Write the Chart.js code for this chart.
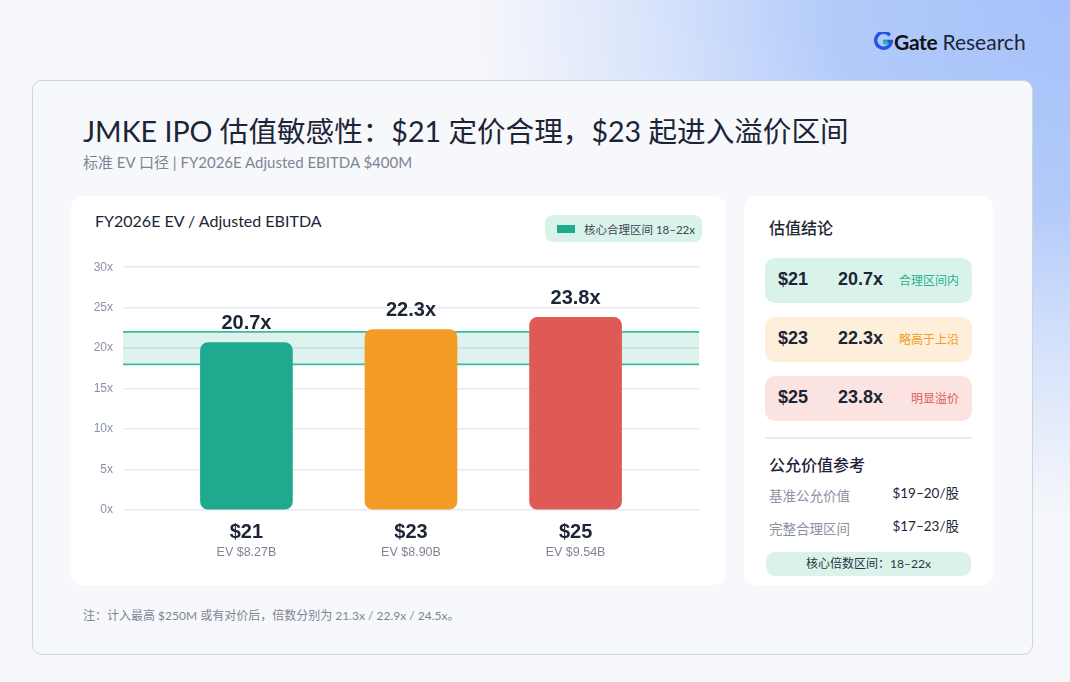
<!DOCTYPE html>
<html>
<head>
<meta charset="utf-8">
<script src="https://cdn.jsdelivr.net/npm/chart.js@4.4.1/dist/chart.umd.min.js"></script>
<style>
  html, body { margin: 0; padding: 0; }
  body {
    width: 1070px; height: 682px; position: relative; overflow: hidden;
    font-family: "Lato", "Noto Sans CJK SC", sans-serif;
    background: radial-gradient(ellipse 600px 520px at 1070px 0px, #a6c1fa 0%, #b3cbfa 40%, #d9e4fb 70%, #f6f7fa 100%), #f6f7fa;
    color: #1c2536;
  }
  .logo { position: absolute; left: 874px; top: 29px; font-size: 21px; display: flex; align-items: center; }
  .logo b { font-weight: 700; color: #111; letter-spacing: -0.3px; }
  .logo span { color: #1c2536; margin-left: 5px; font-weight: 400; }
  .card {
    position: absolute; left: 32px; top: 80px; width: 999px; height: 573px;
    background: #f7f8fb; border: 1px solid #cfd3da; border-radius: 10px;
  }
  .title { position: absolute; left: 83px; top: 109px; font-size: 28.6px; color: #1c2536; white-space: nowrap; }
  .sub { position: absolute; left: 83px; top: 151px; font-size: 15px; color: #7d8594; }
  .panel { position: absolute; background: #fff; border-radius: 12px; }
  .ptitle { position: absolute; font-size: 16px; color: #1c2536; }
  .legend {
    position: absolute; left: 545px; top: 215px; width: 157px; height: 27px; border-radius: 8px;
    background: #daf3ea; font-size: 11.5px; color: #3b4556; display: flex; align-items: center;
  }
  .legend i { display: inline-block; width: 18px; height: 8px; background: #1fa98f; margin: 0 9px 0 12px; }
  .row {
    position: absolute; left: 765px; width: 207px; height: 45px; border-radius: 10px;
    font-family: "Liberation Sans", "Noto Sans CJK SC", sans-serif;
  }
  .row .p { position: absolute; left: 13px; top: 11px; font-size: 18px; font-weight: 700; color: #1c2536; }
  .row .m { position: absolute; left: 73px; top: 11px; font-size: 18px; font-weight: 700; color: #1c2536; }
  .row .s { position: absolute; right: 13px; top: 13px; font-size: 12px; font-family: "Noto Sans CJK SC", sans-serif; }
  .divider { position: absolute; left: 765px; top: 437px; width: 207px; height: 2px; background: #e8ecf1; }
  .kv { position: absolute; font-size: 13.5px; }
  .pill {
    position: absolute; left: 766px; top: 552px; width: 205px; height: 24px; border-radius: 9px;
    background: #daf3ea; font-size: 12px; color: #2a3444; text-align: center; line-height: 24px;
  }
  .note { position: absolute; left: 83px; top: 606px; font-size: 12px; color: #7d8594; }
  #wrap { position: absolute; left: 71px; top: 250px; width: 655px; height: 320px; }
</style>
</head>
<body>
<div class="logo">
  <svg width="19" height="19" viewBox="0 0 18 18" style="margin-right:1px">
    <path d="M15 3.2 A7.5 7.5 0 1 0 16.5 9 H9" fill="none" stroke="#2354e6" stroke-width="3.2"/>
    <rect x="9" y="8" width="4" height="4" fill="#17c3a0"/>
  </svg>
  <b>Gate</b><span>Research</span>
</div>
<div class="card"></div>
<div class="title">JMKE IPO 估值敏感性：$21 定价合理，$23 起进入溢价区间</div>
<div class="sub">标准 EV 口径 | FY2026E Adjusted EBITDA $400M</div>

<div class="panel" style="left:71px;top:196px;width:655px;height:389px;"></div>
<div class="ptitle" style="left:95px;top:211px;">FY2026E EV / Adjusted EBITDA</div>
<div class="legend"><i></i>核心合理区间 18–22x</div>
<div id="wrap"><canvas id="chart"></canvas></div>

<div class="panel" style="left:744px;top:196px;width:249px;height:389px;"></div>
<div class="ptitle" style="left:769px;top:215px;font-weight:500;">估值结论</div>
<div id="rows"></div>
<div class="divider"></div>
<div class="ptitle" style="left:769px;top:452px;font-weight:500;">公允价值参考</div>
<div id="refs"></div>
<div class="pill">核心倍数区间：18–22x</div>
<div class="note">注：计入最高 $250M 或有对价后，倍数分别为 21.3x / 22.9x / 24.5x。</div>

<script>
// data
const prices = ['$21', '$23', '$25'];
const multiples = [20.7, 22.3, 23.8];
const evLabels = ['EV $8.27B', 'EV $8.90B', 'EV $9.54B'];
const statuses = ['合理区间内', '略高于上沿', '明显溢价'];
const coreBand = [18, 22];
const yMax = 30;
const yStep = 5;
const refLabels = ['基准公允价值', '完整合理区间'];
const refValues = ['$19–20/股', '$17–23/股'];

const barColors = ['#1fa98f', '#f29b25', '#e05a55'];
const rowBg = ['#daf3ea', '#fdefd9', '#fbe3e1'];
const statusColors = ['#2bb08f', '#f29b25', '#e05a55'];

// right panel rows
const rowsEl = document.getElementById('rows');
prices.forEach((p, i) => {
  const row = document.createElement('div');
  row.className = 'row';
  row.style.top = (258 + i * 59) + 'px';
  row.style.background = rowBg[i];
  row.innerHTML = `
    <div class="p">${p}</div>
    <div class="m">${multiples[i].toFixed(1)}x</div>
    <div class="s" style="color:${statusColors[i]}">${statuses[i]}</div>
  `;
  rowsEl.appendChild(row);
});
const refsEl = document.getElementById('refs');
refLabels.forEach((l, i) => {
  const a = document.createElement('div');
  a.className = 'kv';
  a.style.cssText = `left:769px;top:${485 + i * 33}px;color:#8a93a3;`;
  a.textContent = l;
  const b = document.createElement('div');
  b.className = 'kv';
  b.style.cssText = `right:${1070 - 959}px;top:${482 + i * 33}px;color:#1c2536;`;
  b.textContent = refValues[i];
  refsEl.appendChild(a);
  refsEl.appendChild(b);
});

// core band behind bars
const bandPlugin = {
  id: 'band',
  beforeDatasetsDraw(chart) {
    const { ctx, chartArea, scales } = chart;
    const yTop = scales.y.getPixelForValue(coreBand[1]);
    const yBot = scales.y.getPixelForValue(coreBand[0]);
    ctx.save();
    ctx.fillStyle = 'rgba(31,169,143,0.15)';
    ctx.fillRect(chartArea.left, yTop, chartArea.right - chartArea.left, yBot - yTop);
    ctx.strokeStyle = '#3dbb9c';
    ctx.lineWidth = 1.8;
    [yTop, yBot].forEach(y => {
      ctx.beginPath();
      ctx.moveTo(chartArea.left, y);
      ctx.lineTo(chartArea.right, y);
      ctx.stroke();
    });
    ctx.restore();
  }
};

// value labels above bars + category labels below
const labelPlugin = {
  id: 'labels',
  afterDatasetsDraw(chart) {
    const { ctx, scales } = chart;
    const meta = chart.getDatasetMeta(0);
    ctx.save();
    ctx.textAlign = 'center';
    ctx.textBaseline = 'middle';
    meta.data.forEach((bar, i) => {
      ctx.fillStyle = '#1c2536';
      ctx.font = 'bold 20px "Liberation Sans", Arial, sans-serif';
      ctx.fillText(multiples[i].toFixed(1) + 'x', bar.x, bar.y - 19);
      const base = scales.y.getPixelForValue(0);
      ctx.fillText(prices[i], bar.x, base + 22);
      ctx.fillStyle = '#7d8594';
      ctx.font = '12.5px "Liberation Sans", Arial, sans-serif';
      ctx.fillText(evLabels[i], bar.x, base + 43);
    });
    ctx.restore();
  }
};

const chart = new Chart(document.getElementById('chart'), {
  type: 'bar',
  data: {
    datasets: [{
      data: multiples.map((v, i) => ({ x: i, y: v })),
      backgroundColor: barColors,
      borderRadius: 8,
      borderSkipped: false,
      barThickness: 92
    }]
  },
  options: {
    responsive: true,
    maintainAspectRatio: false,
    animation: false,
    layout: { padding: { top: 17, right: 27, bottom: 60, left: 0 } },
    plugins: { legend: { display: false }, tooltip: { enabled: false } },
    scales: {
      x: { type: 'linear', min: -0.75, max: 2.75, offset: false, display: false },
      y: {
        min: 0, max: yMax,
        afterFit(scale) { scale.width = 52; },
        ticks: {
          stepSize: yStep, padding: 10, color: '#8a93a3',
          font: { family: '"Liberation Sans", Arial, sans-serif', size: 12 },
          callback: v => v + 'x'
        },
        grid: { color: '#e6eaf0', lineWidth: 1.5, drawTicks: false },
        border: { display: false }
      }
    }
  },
  plugins: [bandPlugin, labelPlugin]
});
</script>
</body>
</html>
